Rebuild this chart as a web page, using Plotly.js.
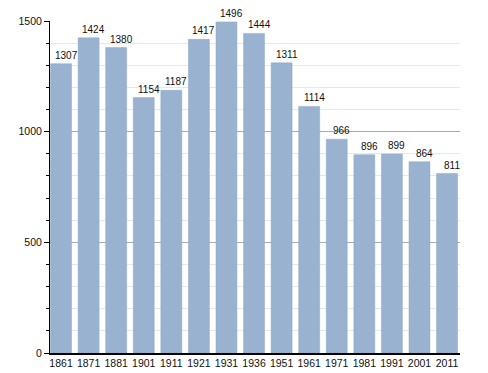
<!DOCTYPE html>
<html><head><meta charset="utf-8">
<script src="https://cdn.plot.ly/plotly-3.0.1.min.js"></script>
<style>html,body{margin:0;padding:0;background:#fff;}#c{width:488px;height:373px;}</style>
</head><body><div id="c"></div>
<script>
const years = ["1861","1871","1881","1901","1911","1921","1931","1936","1951","1961","1971","1981","1991","2001","2011"];
const population = [1307,1424,1380,1154,1187,1417,1496,1444,1311,1114,966,896,899,864,811];

const labels = years.map((y, i) => ({
  x: i, y: population[i], text: String(population[i]),
  xref: 'x', yref: 'y', showarrow: false,
  yanchor: 'bottom', xanchor: 'center',
  xshift: 5, yshift: 1,
  font: {family: 'Liberation Sans, Arial, sans-serif', size: 10, color: '#111'}
}));

Plotly.newPlot('c', [{
  type: 'bar',
  x: years,
  y: population,
  marker: {color: '#98b2cf', line: {color: '#8ea8c6', width: 0.5}},
  width: 0.76,
  hoverinfo: 'none'
}], {
  width: 488, height: 373,
  margin: {l: 50, r: 28, t: 21, b: 20},
  paper_bgcolor: '#fff', plot_bgcolor: '#fff',
  showlegend: false,
  font: {family: 'Liberation Sans, Arial, sans-serif', size: 10, color: '#111'},
  annotations: labels,
  xaxis: {
    type: 'category',
    showline: true, linecolor: '#000', linewidth: 1.5,
    ticks: '', showgrid: false, tickfont: {size: 10.5},
    range: [-0.4, 14.47]
  },
  yaxis: {
    range: [0, 1500],
    tickvals: [0, 500, 1000, 1500],
    showline: true, linecolor: '#000', linewidth: 1,
    ticks: 'outside', ticklen: 5, tickcolor: '#000',
    gridcolor: '#aaaaaa', gridwidth: 1,
    zeroline: false,
    tickfont: {size: 10.5},
    minor: {dtick: 100, showgrid: true, gridcolor: '#e8e8e8', ticks: 'outside', ticklen: 3, tickcolor: '#000'}
  }
}, {staticPlot: true});
</script></body></html>
